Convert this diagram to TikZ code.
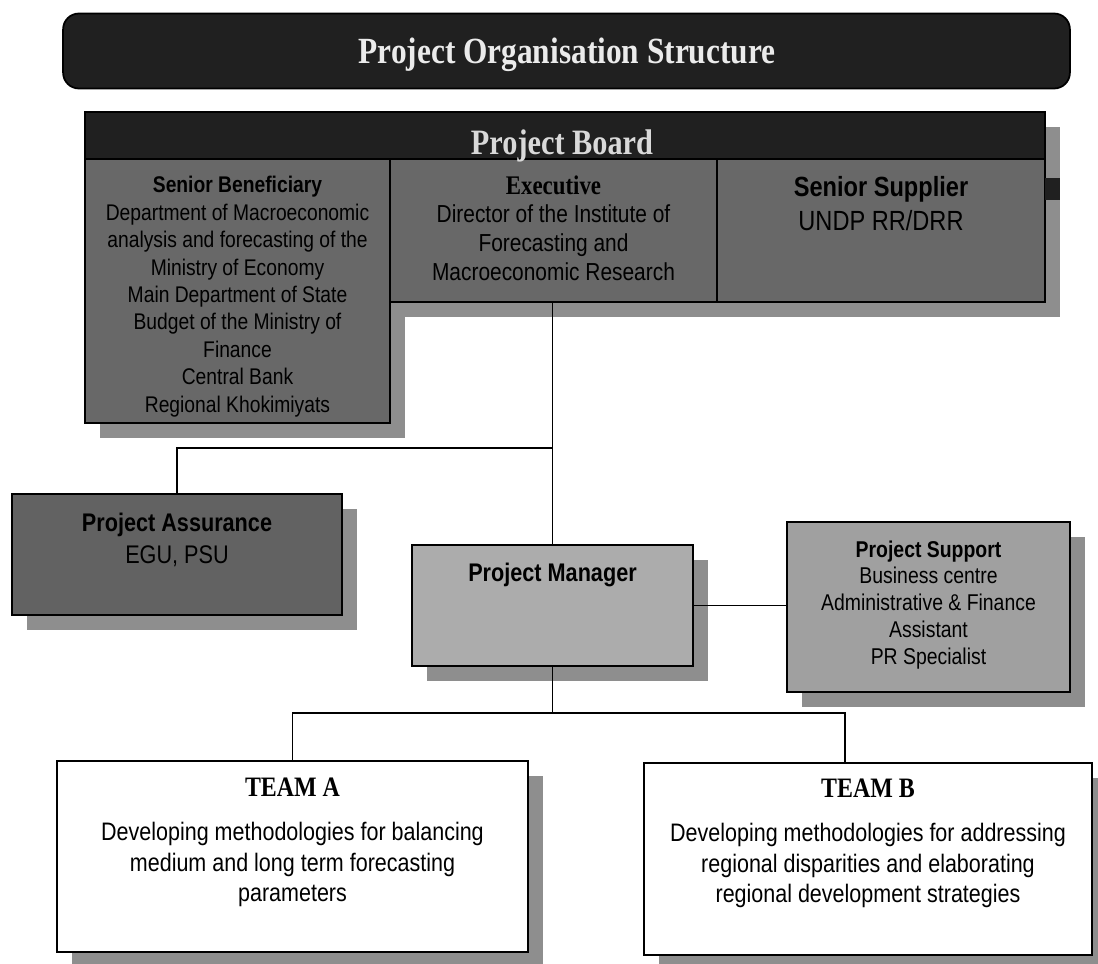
\documentclass[tikz,border=0pt]{standalone}
\usepackage{fontspec}
\setmainfont{Liberation Serif}
\setsansfont{Liberation Sans}
\newfontfamily\narrowsans[FakeStretch=0.85]{Liberation Sans}
\newfontfamily\narrowserif[FakeStretch=0.85]{Liberation Serif}
\usetikzlibrary{positioning,shadows}
\definecolor{bandblack}{RGB}{32,32,32}
\definecolor{boardgray}{RGB}{104,104,104}
\definecolor{assurgray}{RGB}{98,98,98}
\definecolor{managergray}{RGB}{172,172,172}
\definecolor{supportgray}{RGB}{160,160,160}
\definecolor{shadowgray}{RGB}{142,142,142}

\begin{document}
\begin{tikzpicture}[x=0.02cm,y=-0.02cm]
  \tikzset{
    box/.style={draw=black,line width=1pt,inner sep=0pt,
      drop shadow={shadow xshift=0.3cm,shadow yshift=-0.3cm,fill=shadowgray,opacity=1}},
    titlebar/.style={draw=black,line width=1pt,fill=bandblack,rounded corners=9pt,inner sep=0pt},
    band/.style={box,fill=bandblack},
    board/.style={box,fill=boardgray},
    assur/.style={box,fill=assurgray},
    manager/.style={box,fill=managergray},
    support/.style={box,fill=supportgray},
    team/.style={box,fill=white},
    lbl/.style={inner sep=0pt,align=center,font=\narrowsans\fontsize{12.9pt}{15.6pt}\selectfont},
    teamlbl/.style={inner sep=0pt,align=center,font=\narrowsans\fontsize{14.4pt}{17.3pt}\selectfont},
    heading/.style={inner sep=0pt,font=\narrowserif\bfseries\fontsize{16pt}{17pt}\selectfont},
    link/.style={draw=black,line width=0.9pt},
  }
  \useasboundingbox (0,0) rectangle (1098,963);

  % title and board
  \node[titlebar,minimum width=20.14cm,minimum height=1.5cm] (title) at (566.5,51) {};
  \node[inner sep=0pt,text=black!8,font=\narrowserif\bfseries\fontsize{21pt}{22pt}\selectfont]
    (titleT) at (567,55) {Project Organisation Structure};
  \node[band,minimum width=19.2cm,minimum height=0.94cm] (hdr) at (565,135.5) {};
  \node[board,minimum width=6.1cm,minimum height=5.28cm] (benef) at (237.5,291) {};
  \node[board,minimum width=6.54cm,minimum height=2.86cm] (exec) at (553.5,230.5) {};
  \node[board,minimum width=6.56cm,minimum height=2.86cm] (supp) at (881,230.5) {};
  \fill[bandblack] (1045,178) rectangle (1060,200);
  \node[inner sep=0pt,text=black!15,font=\narrowserif\bfseries\fontsize{20.3pt}{21pt}\selectfont]
    (hdrT) at (562,146) {Project Board};

  \node[lbl,below=0.36cm of benef.north] (benefT)
    {\bfseries Senior Beneficiary\\ Department of Macroeconomic\\ analysis and forecasting of the\\
     Ministry of Economy\\ Main Department of State\\ Budget of the Ministry of\\ Finance\\
     Central Bank\\ Regional Khokimiyats};
  \node[lbl,font=\narrowsans\fontsize{14pt}{16.4pt}\selectfont,below=0.34cm of exec.north] (execT)
    {{\narrowserif\bfseries\fontsize{15.3pt}{16.4pt}\selectfont Executive}\\ Director of the Institute of\\
     Forecasting and\\ Macroeconomic Research};
  \node[lbl,font=\narrowsans\fontsize{15.8pt}{19.3pt}\selectfont,below=0.36cm of supp.north] (suppT)
    {\bfseries Senior Supplier\\ UNDP RR/DRR};

  % assurance, manager, support
  \node[assur,minimum width=6.6cm,minimum height=2.42cm] (assur) at (177,554.5) {};
  \node[manager,minimum width=5.62cm,minimum height=2.42cm] (pm) at (552.5,605.5) {};
  \node[support,minimum width=5.66cm,minimum height=3.4cm] (supt) at (928.5,607) {};
  \node[lbl,font=\narrowsans\fontsize{14.5pt}{18pt}\selectfont,below=0.4cm of assur.north] (assurT)
    {\bfseries Project Assurance\\ EGU, PSU};
  \node[lbl,font=\narrowsans\bfseries\fontsize{14.5pt}{15pt}\selectfont,below=0.38cm of pm.north] (pmT)
    {Project Manager};
  \node[lbl,font=\narrowsans\fontsize{13pt}{15.3pt}\selectfont,below=0.38cm of supt.north] (suptT)
    {\bfseries Project Support\\ Business centre\\ Administrative \& Finance\\ Assistant\\ PR Specialist};

  % teams
  \node[team,minimum width=9.42cm,minimum height=3.82cm] (teamA) at (292.5,856.5) {};
  \node[team,minimum width=8.96cm,minimum height=3.84cm] (teamB) at (868,859) {};
  \node[heading,below=0.34cm of teamA.north] (teamAT) {TEAM A};
  \node[teamlbl,below=0.9cm of teamAT.north] (teamAD)
    {Developing methodologies for balancing\\ medium and long term forecasting\\ parameters};
  \node[heading,below=0.32cm of teamB.north] (teamBT) {TEAM B};
  \node[teamlbl,below=0.9cm of teamBT.north] (teamBD)
    {Developing methodologies for addressing\\ regional disparities and elaborating\\ regional development strategies};

  % connectors
  \coordinate (j1) at (552.5,448);
  \coordinate (j2) at (552.5,713);
  \coordinate (jb) at ([xshift=-0.46cm]teamB.north);
  \draw[link] (pm.north |- exec.south) -- (pm.north);
  \draw[link] (j1) -| (assur.north);
  \draw[link] (pm.east) -- (pm.east -| supt.west);
  \draw[link] (pm.south) -- (j2) -| (teamA.north);
  \draw[link] (j2) -| (jb);
\end{tikzpicture}
\end{document}
